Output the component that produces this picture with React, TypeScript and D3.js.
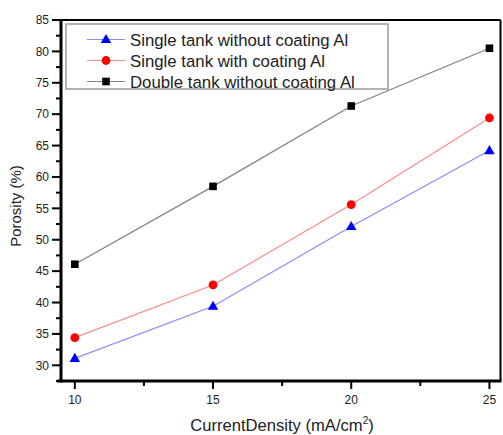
import React, { useEffect, useRef } from 'react';
import * as d3 from 'd3';

const currentDensity = [10, 15, 20, 25];
const singleNoCoat = [31.1, 39.4, 52.1, 64.2];
const singleCoat = [34.4, 42.8, 55.6, 69.4];
const doubleNoCoat = [46.1, 58.5, 71.3, 80.5];
const seriesNames = [
  'Single tank without coating Al',
  'Single tank with coating Al',
  'Double tank without coating Al',
];
const yTicks = [30, 35, 40, 45, 50, 55, 60, 65, 70, 75, 80, 85];
const xTicks = [10, 15, 20, 25];

const W = 503;
const H = 435;

const App = () => {
  const svgRef = useRef<SVGSVGElement>(null);

  useEffect(() => {
    const svg = d3.select(svgRef.current);
    svg.selectAll('*').remove();

    const left = 61, right = 500.5, top = 20, bottom = 381;
    const x = d3.scaleLinear().domain([9.5, 25.4]).range([left, right]);
    const y = d3.scaleLinear().domain([27.5, 85]).range([bottom, top]);
    const font = 'Liberation Sans, Arial, sans-serif';

    const series = [
      { name: seriesNames[0], values: singleNoCoat, color: '#0000ff', line: '#8a8aff', shape: 'triangle' },
      { name: seriesNames[1], values: singleCoat, color: '#ff0000', line: '#ff8a8a', shape: 'circle' },
      { name: seriesNames[2], values: doubleNoCoat, color: '#000000', line: '#808080', shape: 'square' },
    ];

    const marker = (g: any, shape: string, color: string, cx: number, cy: number) => {
      if (shape === 'square') {
        g.append('rect').attr('x', cx - 3.8).attr('y', cy - 3.8).attr('width', 7.6).attr('height', 7.6).attr('fill', color);
      } else if (shape === 'circle') {
        g.append('circle').attr('cx', cx).attr('cy', cy).attr('r', 4.4).attr('fill', color);
      } else {
        g.append('path')
          .attr('d', d3.symbol().type(d3.symbolTriangle).size(48)())
          .attr('transform', `translate(${cx},${cy + 0.5})`)
          .attr('fill', color);
      }
    };

    // lines + markers
    series.forEach((s) => {
      const line = d3.line<number>().x((d, i) => x(currentDensity[i])).y((d) => y(d));
      svg.append('path')
        .attr('d', line(s.values))
        .attr('fill', 'none')
        .attr('stroke', s.line)
        .attr('stroke-width', 1.2);
      s.values.forEach((v, i) => marker(svg, s.shape, s.color, x(currentDensity[i]), y(v)));
    });

    // frame
    svg.append('line').attr('x1', left).attr('x2', right).attr('y1', top).attr('y2', top)
      .attr('stroke', '#000').attr('stroke-width', 2);
    svg.append('line').attr('x1', right).attr('x2', right).attr('y1', top).attr('y2', bottom)
      .attr('stroke', '#000').attr('stroke-width', 2);
    svg.append('line').attr('x1', left).attr('x2', left).attr('y1', top - 1).attr('y2', bottom + 1.5)
      .attr('stroke', '#000').attr('stroke-width', 3);
    svg.append('line').attr('x1', left - 4).attr('x2', right + 1).attr('y1', bottom).attr('y2', bottom)
      .attr('stroke', '#000').attr('stroke-width', 3);

    // y ticks
    yTicks.forEach((t) => {
      svg.append('line').attr('x1', left - 9).attr('x2', left).attr('y1', y(t)).attr('y2', y(t))
        .attr('stroke', '#000').attr('stroke-width', 2);
      svg.append('text').attr('x', left - 12).attr('y', y(t) + 4.3)
        .attr('text-anchor', 'end').style('font-family', font).style('font-size', '12px')
        .attr('fill', '#222').text(t);
    });
    d3.range(27.5, 85, 5).forEach((t) => {
      svg.append('line').attr('x1', left - 5).attr('x2', left).attr('y1', y(t)).attr('y2', y(t))
        .attr('stroke', '#000').attr('stroke-width', 2);
    });

    // x ticks
    xTicks.forEach((t) => {
      svg.append('line').attr('x1', x(t)).attr('x2', x(t)).attr('y1', bottom).attr('y2', bottom + 8)
        .attr('stroke', '#000').attr('stroke-width', 2);
      svg.append('text').attr('x', x(t)).attr('y', 403.5)
        .attr('text-anchor', 'middle').style('font-family', font).style('font-size', '12px')
        .attr('fill', '#222').text(t);
    });
    [12.5, 17.5, 22.5].forEach((t) => {
      svg.append('line').attr('x1', x(t)).attr('x2', x(t)).attr('y1', bottom).attr('y2', bottom + 5)
        .attr('stroke', '#000').attr('stroke-width', 2);
    });

    // axis titles
    const xt = svg.append('text').attr('x', 282).attr('y', 430.5)
      .attr('text-anchor', 'middle').style('font-family', font).style('font-size', '16.6px').attr('fill', '#222');
    xt.append('tspan').text('CurrentDensity (mA/cm');
    xt.append('tspan').attr('dy', -6.5).style('font-size', '10px').text('2');
    xt.append('tspan').attr('dy', 6.5).text(')');

    svg.append('text').attr('transform', 'translate(21,206) rotate(-90)')
      .attr('text-anchor', 'middle').style('font-family', font).style('font-size', '15px')
      .attr('fill', '#222').text('Porosity (%)');

    // legend
    const lg = svg.append('g');
    lg.append('rect').attr('x', 66).attr('y', 24).attr('width', 322).attr('height', 65)
      .attr('fill', '#fff').attr('stroke', '#9a9a9a').attr('stroke-width', 1.5);
    series.forEach((s, i) => {
      const cy = 39.5 + i * 21;
      lg.append('line').attr('x1', 87).attr('x2', 125).attr('y1', cy).attr('y2', cy)
        .attr('stroke', s.line).attr('stroke-width', 1.2);
      marker(lg, s.shape, s.color, 106, cy);
      lg.append('text').attr('x', 130).attr('y', cy + 6)
        .style('font-family', font).style('font-size', '16.8px').attr('fill', '#222').text(s.name);
    });
  }, []);

  return (
    <svg ref={svgRef} width={W} height={H} viewBox={`0 0 ${W} ${H}`}
      style={{ position: 'absolute', left: 0, top: 0, background: '#fff' }} />
  );
};

export default App;
